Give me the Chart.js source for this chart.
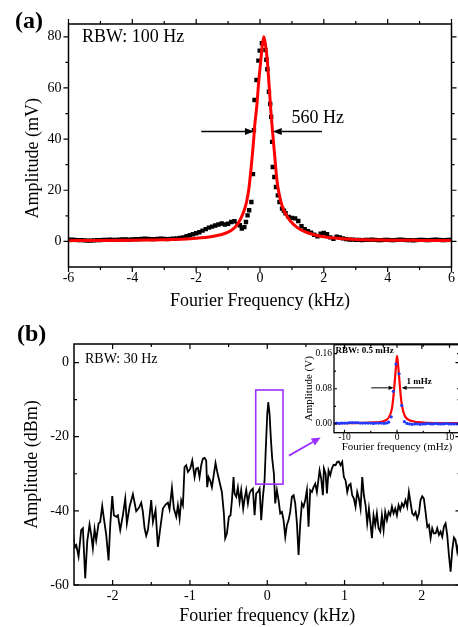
<!DOCTYPE html>
<html>
<head>
<meta charset="utf-8">
<script src="https://cdn.jsdelivr.net/npm/chart.js@4.4.1/dist/chart.umd.min.js"></script>
<style>
    html, body { margin: 0; padding: 0; background: #fff; overflow: hidden; width: 458px; height: 627px; }
    .panel { position: absolute; }
    .tag { position: absolute; font: bold 24px 'Liberation Serif', 'Times New Roman', serif; line-height: 24px; color: #000; }
</style>
</head>
<body>
<canvas id="chartA" class="panel" width="458" height="312" style="left:0;top:0"></canvas>
<canvas id="chartB" class="panel" width="462" height="317" style="left:0;top:310px"></canvas>
<canvas id="chartInset" class="panel" width="168" height="120" style="left:296px;top:338px"></canvas>
<div class="tag" style="left:15px;top:8px">(a)</div>
<div class="tag" style="left:17px;top:321px">(b)</div>
<script>
const SERIF = "'Liberation Serif', 'Times New Roman', serif";

// (a) beat note, amplitude in mV vs kHz
const beatFreq = [
    -6.0, -5.9, -5.8, -5.7, -5.6, -5.5, -5.4, -5.3, -5.2, -5.1, -5.0, -4.9, -4.8, -4.7, -4.6, -4.5, -4.4, -4.3,
    -4.2, -4.1, -4.0, -3.9, -3.8, -3.7, -3.6, -3.5, -3.4, -3.3, -3.2, -3.1, -3.0, -2.9, -2.8, -2.7, -2.6,
    -2.5, -2.4, -2.3, -2.2, -2.1, -2.0, -1.9, -1.8, -1.7, -1.6, -1.5, -1.4, -1.3, -1.2, -1.1, -1.0, -0.9, -0.8, -0.7,
    -0.63, -0.57, -0.49, -0.44, -0.39, -0.34, -0.27, -0.22, -0.19, -0.17, -0.11, -0.05, -0.01, 0.06,
    0.17, 0.2, 0.23, 0.28, 0.32, 0.35, 0.38, 0.4, 0.45, 0.5, 0.56, 0.61, 0.69, 0.75, 0.8, 0.9,
    1.0, 1.1, 1.2, 1.3, 1.4, 1.5, 1.6, 1.7, 1.8, 1.9, 2.0, 2.1, 2.2, 2.3, 2.4, 2.5, 2.6, 2.7, 2.8,
    2.9, 3.0, 3.1, 3.2, 3.3, 3.4, 3.5, 3.6, 3.7, 3.8, 3.9, 4.0, 4.1, 4.2, 4.3, 4.4, 4.5, 4.6, 4.7, 4.8,
    4.9, 5.0, 5.1, 5.2, 5.3, 5.4, 5.5, 5.6, 5.7, 5.8, 5.9, 6.0,
];
const beatAmp = [
    0.6, 0.7, 0.6, 0.5, 0.5, 0.4, 0.3, 0.3, 0.4, 0.5, 0.5, 0.6, 0.6, 0.7, 0.6, 0.6, 0.7, 0.8,
    0.8, 0.7, 0.8, 0.9, 0.9, 1.0, 1.1, 1.0, 0.9, 0.9, 1.0, 1.1, 1.0, 0.9, 1.0, 1.1, 1.2,
    1.4, 1.6, 2.0, 2.4, 2.8, 3.2, 3.6, 4.2, 4.8, 5.4, 5.8, 6.2, 6.6, 7.0, 6.6, 6.9, 7.6, 7.9, 6.8,
    6.3, 5.0, 5.6, 7.6, 10.2, 12.2, 15.4, 26.3, 43.5, 55.3, 63.1, 70.7, 74.6, 77.5,
    74.8, 71.0, 67.3, 58.5, 53.7, 48.7, 38.9, 29.1, 25.2, 21.3, 18.0, 15.4, 12.8, 12.0, 11.0, 9.6,
    9.2, 9.0, 8.0, 6.0, 4.8, 4.0, 3.4, 2.6, 2.0, 3.0, 3.3, 2.8, 1.6, 1.0, 1.8, 1.6, 1.2, 0.9, 0.7,
    0.7, 0.6, 0.6, 0.5, 0.6, 0.6, 0.7, 0.6, 0.5, 0.5, 0.6, 0.6, 0.5, 0.5, 0.6, 0.7, 0.6, 0.5, 0.5, 0.4,
    0.5, 0.6, 0.6, 0.5, 0.5, 0.6, 0.7, 0.6, 0.5, 0.5, 0.6, 0.6,
];
const fitFreq = [
    -6, -5, -4, -3, -2.5, -2, -1.5, -1.2, -1.0, -0.85, -0.7, -0.6, -0.5, -0.42, -0.35, -0.28, -0.22, -0.16,
    -0.1, -0.04, 0.02, 0.07, 0.12, 0.17, 0.22, 0.28, 0.34, 0.4, 0.46, 0.53, 0.6, 0.7, 0.8, 0.95, 1.15, 1.4,
    1.7, 2.0, 2.5, 3, 4, 5, 6,
];
const fitAmp = [
    0.3, 0.35, 0.45, 0.65, 0.85, 1.2, 1.9, 2.7, 3.6, 4.8, 6.8, 9.0, 12.0, 15.5, 20.5, 28.5, 36.5, 46,
    53, 62.5, 70, 76.5, 80, 77, 72, 62, 51, 42, 33.5, 24, 18.5, 13.6, 10.8, 8.0, 5.6, 3.8,
    2.6, 1.8, 1.1, 0.75, 0.5, 0.4, 0.35,
];
const ticksAX = [-6, -4, -2, 0, 2, 4, 6];
const minorAX = [-5, -3, -1, 1, 3, 5];
const ticksAY = [0, 20, 40, 60, 80];
const minorAY = [10, 30, 50, 70];

// (b) spectrum analyser trace, dBm vs kHz
const specFreq = [
    -2.514, -2.493, -2.471, -2.441, -2.407, -2.385, -2.355, -2.329, -2.299, -2.277, -2.256, -2.234, -2.213,
    -2.182, -2.161, -2.135, -2.113, -2.083, -2.053, -2.031, -2.005, -1.984, -1.954, -1.932, -1.902, -1.868,
    -1.837, -1.816, -1.781, -1.738, -1.695, -1.660, -1.630, -1.609, -1.587, -1.566, -1.544, -1.522, -1.501,
    -1.479, -1.445, -1.415, -1.384, -1.350, -1.315, -1.285, -1.264, -1.233, -1.208, -1.177, -1.156, -1.134,
    -1.113, -1.091, -1.070, -1.048, -1.026, -0.996, -0.970, -0.940, -0.919,
    -0.897, -0.876, -0.854, -0.833, -0.810, -0.790, -0.777, -0.759, -0.738, -0.716, -0.690, -0.669, -0.647,
    -0.617, -0.587, -0.561, -0.544, -0.522, -0.496, -0.475, -0.457, -0.436, -0.423, -0.401, -0.380, -0.358,
    -0.337, -0.311, -0.293, -0.272, -0.250, -0.229, -0.207, -0.186, -0.164, -0.143, -0.121, -0.099, -0.078,
    -0.056, -0.035, -0.018, 0.000, 0.013, 0.030, 0.047, 0.064, 0.086, 0.103, 0.125, 0.146, 0.168, 0.190,
    0.211, 0.233, 0.254, 0.276, 0.297, 0.319, 0.341, 0.362, 0.384, 0.405, 0.427, 0.448, 0.470, 0.491,
    0.513, 0.534, 0.556, 0.578, 0.599, 0.621, 0.642, 0.664,
    0.677, 0.698, 0.720, 0.733, 0.755, 0.772, 0.793, 0.815, 0.836, 0.858, 0.884, 0.905, 0.927, 0.948,
    0.970, 0.991, 1.013, 1.035, 1.056, 1.078, 1.099, 1.121, 1.142, 1.164, 1.186, 1.207, 1.229, 1.250,
    1.272, 1.293, 1.315, 1.337, 1.354, 1.375, 1.397, 1.418, 1.440, 1.462, 1.483, 1.505, 1.526, 1.548,
    1.570, 1.591, 1.613, 1.634, 1.656, 1.677, 1.699, 1.720, 1.742, 1.764, 1.789, 1.811, 1.832, 1.854,
    1.876, 1.897, 1.919, 1.940, 1.962, 1.983, 2.005, 2.026, 2.048, 2.070, 2.091, 2.113, 2.134, 2.156,
    2.178, 2.199, 2.221, 2.242, 2.264, 2.285, 2.307, 2.328, 2.350, 2.372, 2.393, 2.415, 2.436, 2.458, 2.480,
];
const specPower = [
    -45.6, -49.7, -49.2, -52.3, -45.2, -44.7, -58.2, -48.3, -43.7, -46.5, -50.1, -44.9, -47.9,
    -43.4, -43.0, -38.7, -42.1, -46.5, -53.4, -43.8, -36.0, -41.2, -41.6, -41.2, -45.2, -41.2,
    -36.7, -43.4, -38.9, -35.5, -40.1, -39.2, -37.8, -40.3, -44.7, -46.7, -45.2, -41.2, -37.1,
    -43.0, -39.8, -49.7, -44.7, -39.4, -38.3, -37.8, -39.6, -33.8, -39.4, -41.6, -38.5, -42.1,
    -37.1, -38.5, -28.2, -27.7, -29.5, -28.6, -26.4, -30.9, -28.6,
    -28.4, -30.9, -27.7, -25.9, -25.7, -26.4, -33.6, -30.9, -31.8, -33.6, -30.0, -27.1, -29.5,
    -32.2, -34.9, -40.7, -47.4, -46.1, -41.6, -41.2, -37.1, -30.9, -35.3, -36.2, -33.7, -37.6,
    -34.4, -39.4, -36.7, -34.4, -38.0, -35.3, -34.4, -34.0, -41.2, -35.3, -34.9, -34.0, -42.5,
    -36.2, -31.8, -22.8, -13.9, -10.7, -13.9, -20.6, -25.9, -30.0, -38.0, -34.4, -37.1, -40.7, -40.3,
    -42.5, -47.0, -43.8, -42.5, -40.3, -36.2, -35.8, -38.0, -43.4, -51.9, -43.4, -38.0, -38.9, -37.1,
    -34.4, -44.3, -34.4, -34.9, -33.6, -32.7, -34.9, -31.3,
    -29.1, -31.3, -35.8, -28.6, -30.0, -35.3, -29.1, -30.4, -28.6, -27.6, -27.7, -26.8, -26.7, -27.7,
    -26.8, -30.9, -31.8, -34.9, -33.1, -32.7, -35.8, -36.7, -38.9, -34.9, -36.7, -39.4, -30.9, -35.8,
    -38.5, -43.4, -39.4, -43.8, -47.4, -41.2, -43.8, -40.7, -44.7, -45.6, -41.2, -45.2, -40.3, -42.5,
    -40.3, -41.2, -38.9, -40.7, -39.4, -41.2, -38.5, -39.8, -38.0, -38.9, -37.1, -38.9, -34.9, -37.8,
    -40.7, -41.2, -40.3, -42.1, -40.7, -37.1, -36.1, -36.7, -40.3, -44.3, -43.8, -47.4, -44.7, -46.1,
    -46.1, -44.7, -46.5, -45.6, -47.0, -44.3, -43.4, -46.5, -51.9, -56.4, -50.6, -47.2, -47.9, -51.0, -48.5,
];
const ticksBX = [-2, -1, 0, 1, 2];
const minorBX = [-1.5, -0.5, 0.5, 1.5];
const ticksBY = [-60, -40, -20, 0];
const minorBY = [-50, -30, -10];

// inset: zoomed beat note, V vs mHz
const insetFreq = [
    -12, -11.5, -11, -10.5, -10, -9.5, -9, -8.5, -8, -7.5, -7, -6.5, -6, -5.5, -5, -4.5, -4, -3.5, -3, -2.5, -2,
    -1.6, -1.1, -0.7, -0.2, 0.4, 0.9, 1.4, 1.9, 2.4, 2.9, 3.4, 3.9, 4.4, 4.9, 5.4, 5.9, 6.4, 6.9, 7.4, 7.9,
    8.4, 8.9, 9.4, 9.9, 10.4, 10.9, 11.4, 11.9,
];
const insetAmp = [
    0.002, 0.002, 0.001, 0.002, 0.002, 0.002, 0.003, 0.003, 0.003, 0.003, 0.002, 0.002, 0.002, 0.002, 0.002,
    0.001, 0.002, 0.002, 0.002, 0.001, 0.002,
    0.004, 0.016, 0.074, 0.136, 0.114, 0.042, 0.005, 0.001, 0.0, -0.001, 0.0, 0.0, -0.001, 0.0, 0.0, 0.001,
    0.0, 0.0, 0.001, 0.0, 0.0, 0.0, 0.001, 0.0, 0.0, 0.0, 0.0, 0.0,
];
const insetFitFreq = [-12, -8, -5, -3, -2, -1.5, -1, -0.7, -0.4, -0.2, 0, 0.2, 0.45, 0.7, 1, 1.5, 2, 3, 5, 8, 12];
const insetFitAmp = [
    0.002, 0.002, 0.003, 0.005, 0.009, 0.016, 0.033, 0.06, 0.1, 0.13, 0.155, 0.135, 0.1, 0.065, 0.038,
    0.018, 0.011, 0.006, 0.003, 0.002, 0.002,
];
const ticksIX = [-10, 0, 10];
const minorIX = [-5, 5];
const ticksIY = [0, 0.08, 0.16];
const minorIY = [0.04, 0.12];

const pts = (xs, ys) => xs.map((x, i) => ({ x, y: ys[i] }));

const arrow = (ctx, x1, y1, x2, y2, { color = '#000', width = 1.5, head = 9, half = 3.5 } = {}) => {
    const ang = Math.atan2(y2 - y1, x2 - x1);
    const c = Math.cos(ang);
    const s = Math.sin(ang);
    ctx.save();
    ctx.strokeStyle = color;
    ctx.fillStyle = color;
    ctx.lineWidth = width;
    ctx.beginPath();
    ctx.moveTo(x1, y1);
    ctx.lineTo(x2 - head * c, y2 - head * s);
    ctx.stroke();
    ctx.beginPath();
    ctx.moveTo(x2, y2);
    ctx.lineTo(x2 - head * c + half * s, y2 - head * s - half * c);
    ctx.lineTo(x2 - head * c - half * s, y2 - head * s + half * c);
    ctx.closePath();
    ctx.fill();
    ctx.restore();
};

// box around the plot area plus major/minor ticks on all four sides
const makeFrame = ({ xMajor, xMinor, yMajor, yMinor, inward, major = 5, minor = 3, lineWidth = 1.5 }) => ({
    id: 'frame',
    afterDraw(chart) {
        const { ctx, chartArea: a, scales: { x, y } } = chart;
        const dir = inward ? -1 : 1;
        ctx.save();
        ctx.strokeStyle = '#000';
        ctx.lineWidth = lineWidth;
        ctx.strokeRect(a.left, a.top, a.right - a.left, a.bottom - a.top);
        ctx.lineWidth = 1.2;
        ctx.beginPath();
        const markX = (vals, len) => vals.forEach((v) => {
            const p = x.getPixelForValue(v);
            ctx.moveTo(p, a.bottom);
            ctx.lineTo(p, a.bottom + dir * len);
            ctx.moveTo(p, a.top);
            ctx.lineTo(p, a.top - dir * len);
        });
        const markY = (vals, len) => vals.forEach((v) => {
            const p = y.getPixelForValue(v);
            ctx.moveTo(a.left, p);
            ctx.lineTo(a.left - dir * len, p);
            ctx.moveTo(a.right, p);
            ctx.lineTo(a.right + dir * len, p);
        });
        markX(xMajor, major);
        markX(xMinor, minor);
        markY(yMajor, major);
        markY(yMinor, minor);
        ctx.stroke();
        ctx.restore();
    },
});

const axis = ({ min, max, ticks, size, font, pad, title, titleFont, titlePad, fmt }) => ({
    type: 'linear',
    min,
    max,
    afterBuildTicks: (s) => { s.ticks = ticks.map((value) => ({ value })); },
    afterFit: (s) => {
        if (s.isHorizontal()) s.height = size; else s.width = size;
    },
    grid: { display: false, drawTicks: false },
    border: { display: false },
    ticks: {
        padding: pad,
        color: '#000',
        autoSkip: false,
        maxRotation: 0,
        font: { family: SERIF, ...font },
        callback: fmt || ((v) => String(v)),
    },
    title: {
        display: Boolean(title),
        text: title,
        color: '#000',
        font: { family: SERIF, ...titleFont },
        padding: titlePad,
    },
});

const baseOptions = (padding) => ({
    responsive: false,
    animation: false,
    devicePixelRatio: 1,
    layout: { padding },
    plugins: { legend: { display: false }, tooltip: { enabled: false } },
});

// (a)
new Chart(document.getElementById('chartA'), {
    type: 'scatter',
    data: {
        datasets: [
            {
                data: pts(fitFreq, fitAmp),
                showLine: true,
                borderColor: '#ff0000',
                borderWidth: 3,
                pointRadius: 0,
                cubicInterpolationMode: 'monotone',
            },
            {
                data: pts(beatFreq, beatAmp),
                pointStyle: 'rect',
                pointRadius: 3.1,
                pointBackgroundColor: '#000',
                pointBorderWidth: 0,
            },
        ],
    },
    options: {
        ...baseOptions({ top: 24, right: 1, left: 0, bottom: 0 }),
        scales: {
            x: axis({
                min: -6, max: 6, ticks: ticksAX, size: 45, font: { size: 14 }, pad: 3,
                title: 'Fourier Frequency (kHz)', titleFont: { size: 18 }, titlePad: { top: 0, bottom: 0 },
            }),
            y: axis({
                min: -10, max: 85, ticks: ticksAY, size: 68.5, font: { size: 14 }, pad: 7,
                title: '', titleFont: { size: 18 }, titlePad: 0,
            }),
        },
    },
    plugins: [
        makeFrame({ xMajor: ticksAX, xMinor: minorAX, yMajor: ticksAY, yMinor: minorAY, inward: false }),
        {
            id: 'notesA',
            afterDraw(chart) {
                const { ctx, chartArea: a, scales: { x, y } } = chart;
                ctx.save();
                ctx.fillStyle = '#000';
                ctx.font = `18px ${SERIF}`;
                ctx.textBaseline = 'middle';
                ctx.fillText('RBW: 100 Hz', a.left + 13.5, a.top + 13);
                ctx.fillText('560 Hz', x.getPixelForValue(0.99), y.getPixelForValue(48.2));
                const ay = y.getPixelForValue(43);
                arrow(ctx, x.getPixelForValue(-1.84), ay, x.getPixelForValue(-0.19), ay);
                arrow(ctx, x.getPixelForValue(1.94), ay, x.getPixelForValue(0.4), ay);
                // y title sits a little below the plot centre in the original
                ctx.translate(33, y.getPixelForValue(32.5));
                ctx.rotate(-Math.PI / 2);
                ctx.textAlign = 'center';
                ctx.fillText('Amplitude (mV)', 0, 0);
                ctx.restore();
            },
        },
    ],
});

// (b)
new Chart(document.getElementById('chartB'), {
    type: 'scatter',
    data: {
        datasets: [
            {
                data: pts(specFreq, specPower),
                showLine: true,
                borderColor: '#000',
                borderWidth: 1.8,
                pointRadius: 0,
                tension: 0,
            },
        ],
    },
    options: {
        ...baseOptions({ top: 34, right: 1.5, left: 0, bottom: 0 }),
        scales: {
            x: axis({
                min: -2.5, max: 2.5, ticks: ticksBX, size: 42, font: { size: 14 }, pad: 3.3,
                title: 'Fourier frequency (kHz)', titleFont: { size: 18 }, titlePad: { top: 0, bottom: 0 },
            }),
            y: axis({
                min: -60, max: 5, ticks: ticksBY, size: 74, font: { size: 14 }, pad: 5,
                title: 'Amplitude (dBm)', titleFont: { size: 18 }, titlePad: { top: 21, bottom: 0 },
            }),
        },
    },
    plugins: [
        makeFrame({ xMajor: ticksBX, xMinor: minorBX, yMajor: ticksBY, yMinor: minorBY, inward: true }),
        {
            id: 'notesB',
            afterDraw(chart) {
                const { ctx, chartArea: a, scales: { x, y } } = chart;
                ctx.save();
                ctx.fillStyle = '#000';
                ctx.font = `14px ${SERIF}`;
                ctx.textBaseline = 'middle';
                ctx.fillText('RBW: 30 Hz', a.left + 11, a.top + 15.3);
                const x0 = x.getPixelForValue(-0.149);
                const x1 = x.getPixelForValue(0.204);
                const y0 = y.getPixelForValue(-7.4);
                const y1 = y.getPixelForValue(-32.8);
                ctx.strokeStyle = '#9b30ff';
                ctx.lineWidth = 1.6;
                ctx.strokeRect(x0, y0, x1 - x0, y1 - y0);
                arrow(ctx, x.getPixelForValue(0.281), y.getPixelForValue(-25.1),
                    x.getPixelForValue(0.691), y.getPixelForValue(-20.2),
                    { color: '#9b30ff', width: 1.8, head: 9, half: 4 });
                ctx.restore();
            },
        },
    ],
});

// inset of (b)
new Chart(document.getElementById('chartInset'), {
    type: 'scatter',
    data: {
        datasets: [
            {
                data: pts(insetFreq, insetAmp),
                pointStyle: 'circle',
                pointRadius: 1.6,
                pointBackgroundColor: '#1f3bff',
                pointBorderWidth: 0,
            },
            {
                data: pts(insetFitFreq, insetFitAmp),
                showLine: true,
                borderColor: '#ff0000',
                borderWidth: 2.2,
                pointRadius: 0,
                cubicInterpolationMode: 'monotone',
            },
        ],
    },
    options: {
        ...baseOptions({ top: 6.3, right: 1.5, left: 0, bottom: 0 }),
        scales: {
            x: axis({
                min: -12, max: 12, ticks: ticksIX, size: 25.3, font: { size: 9.5, lineHeight: 1 }, pad: 0,
                title: 'Fourier frequency (mHz)', titleFont: { size: 11, lineHeight: 1 }, titlePad: { top: 0, bottom: 5.8 },
            }),
            y: axis({
                min: -0.02, max: 0.18, ticks: ticksIY, size: 38, font: { size: 9.5, lineHeight: 1 }, pad: 2,
                title: 'Amplitude (V)', titleFont: { size: 11, lineHeight: 1 }, titlePad: { top: 7.5, bottom: 0 },
                fmt: (v) => v.toFixed(2),
            }),
        },
    },
    plugins: [
        makeFrame({ xMajor: ticksIX, xMinor: minorIX, yMajor: ticksIY, yMinor: minorIY, inward: true, major: 3, minor: 2, lineWidth: 1.3 }),
        {
            id: 'notesInset',
            afterDraw(chart) {
                const { ctx, chartArea: a, scales: { x, y } } = chart;
                ctx.save();
                ctx.fillStyle = '#000';
                ctx.font = `bold 9px ${SERIF}`;
                ctx.textBaseline = 'middle';
                ctx.fillText('RBW: 0.5 mHz', a.left + 1.5, a.top + 6);
                ctx.fillText('1 mHz', x.getPixelForValue(1.82), y.getPixelForValue(0.097));
                const ay = y.getPixelForValue(0.082);
                arrow(ctx, x.getPixelForValue(-4.9), ay, x.getPixelForValue(-0.66), ay, { width: 1, head: 5, half: 2.2 });
                arrow(ctx, x.getPixelForValue(5.13), ay, x.getPixelForValue(0.89), ay, { width: 1, head: 5, half: 2.2 });
                ctx.restore();
            },
        },
    ],
});
</script>
</body>
</html>
